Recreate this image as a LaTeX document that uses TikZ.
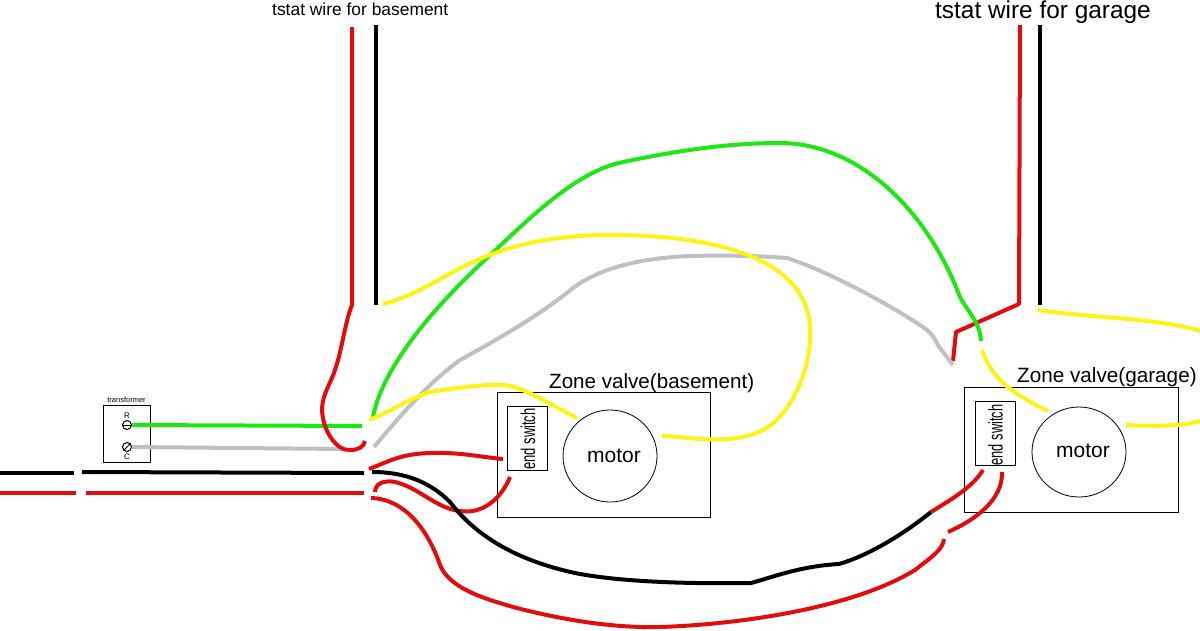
\documentclass[tikz,border=0pt]{standalone}
\usepackage{fontspec}
\usepackage{graphicx}
\setmainfont{Liberation Sans}
\definecolor{wred}{RGB}{226,12,12}
\definecolor{wgreen}{RGB}{30,232,20}
\definecolor{wyellow}{RGB}{254,244,20}
\definecolor{wgray}{RGB}{192,192,192}
\newcommand{\fsz}[1]{\fontsize{#1}{#1}\selectfont}
\usetikzlibrary{shapes.geometric}
\tikzset{
  wire/.style={line width=4pt,line cap=butt,line join=round},
  thinbox/.style={draw=black,line width=0.9pt,inner sep=0pt},
  lbl/.style={inner sep=0pt,text=black,anchor=base west},
  motorc/.style={draw=black,line width=0.8pt,ellipse,inner sep=0pt},
  screw/.style={draw=black,line width=1pt,circle,minimum size=9pt,inner sep=0pt},
}
\begin{document}
\begin{tikzpicture}[x=1pt,y=-1pt]
\useasboundingbox (0,0) rectangle (1200,630);
% boxes
\node[thinbox,minimum width=46.5pt,minimum height=57pt] (tr) at (127,433.5) {};
\node[inner sep=0pt,font=\fsz{7.5}] (trl) at (126.5,400) {transformer};
\node[screw] (R) at (127,425) {};
\node[screw] (C) at (127,447) {};
\draw[line width=.9pt] (R.west) -- (R.east);
\draw[line width=.9pt] (C.south west) -- (C.north east);
\node[inner sep=0pt,font=\fsz{8}] (Rl) at (127,416) {R};
\node[inner sep=0pt,font=\fsz{8}] (Cl) at (127,457) {C};
\node[thinbox,minimum width=213pt,minimum height=125pt] (zb) at (603.5,454.5) {};
\node[thinbox,minimum width=40pt,minimum height=64pt] (sb) at (527,438) {};
\node[motorc,minimum width=94pt,minimum height=92pt] (mb) at (610,456) {};
\node[thinbox,minimum width=214pt,minimum height=125pt] (zg) at (1071,449.5) {};
\node[thinbox,minimum width=40pt,minimum height=64pt] (sg) at (995,433.5) {};
\node[motorc,minimum width=94pt,minimum height=90pt] (mg) at (1079,452) {};
% texts
\node[lbl,font=\fsz{17.4}] (t1) at (272,15) {tstat wire for basement};
\node[lbl,font=\fsz{24.4}] (t2) at (935,18) {tstat wire for garage};
\node[lbl,font=\fsz{20.6}] (z1) at (549,388) {Zone valve(basement)};
\node[lbl,font=\fsz{20.7}] (z2) at (1017,382) {Zone valve(garage)};
\node[inner sep=0pt,font=\fsz{21}] (m1) at (614,456) {motor};
\node[inner sep=0pt,font=\fsz{21}] (m2) at (1083,451) {motor};
\node[inner sep=0pt,rotate=90] (e1) at (528,439) {\scalebox{0.65}[1]{\fsz{20}end switch}};
\node[inner sep=0pt,rotate=90] (e2) at (995.5,435) {\scalebox{0.64}[1]{\fsz{20}end switch}};
% free wire ends
\coordinate (rbtop) at (352,27);
\coordinate (kbtop) at (376,25);
\coordinate (rgtop) at (1020,25);
\coordinate (kgtop) at (1040,25);
% straight wires
\draw[wire,black] (kbtop) -- (376,305);
\draw[wire,black] (kgtop) -- (1040,305);
\draw[wire,wred] (rgtop) -- (1019,304) -- (956,332) -- (953,361);
\draw[wire,wgray] (C.east) -- (345,449);
\draw[wire,wgreen] (R.east) -- (362,426);
\draw[wire,black] (0,473) -- (74,473);
\draw[wire,black] (82,472) -- (364,473);
\draw[wire,wred] (0,493) -- (76,493);
\draw[wire,wred] (86,493) -- (364,493);
% basement red loop
\draw[wire,wred] (rbtop) -- (352,305) .. controls (345,322) and (342,350) .. (335,370) .. controls (330,385) and (322,395) .. (322,410) .. controls (323,432) and (337,451) .. (350,450) .. controls (358,450) and (364,447) .. (365,441);
% curved wires
\draw[wire,wgray] (374,447) .. controls (390,428) and (425,385) .. (460,360) .. controls (500,338) and (540,315) .. (573,288) .. controls (600,268) and (640,258) .. (690,256) .. controls (730,255) and (760,256) .. (787,258) .. controls (830,272) and (890,305) .. (923,327) .. controls (935,335) and (937,345) .. (940,348) -- (953,365);
\draw[wire,wgreen] (373,417) .. controls (381,375) and (420,320) .. (487,258) .. controls (530,218) and (575,172) .. (623,162) .. controls (680,150) and (730,143) .. (780,143) .. controls (855,143) and (925,205) .. (960,297) .. controls (968,312) and (980,322) .. (981,341);
\draw[wire,wyellow] (383,304) .. controls (420,295) and (450,270) .. (487,256) .. controls (520,243) and (560,235) .. (610,235) .. controls (680,235) and (790,245) .. (808,313) .. controls (815,345) and (805,385) .. (783,413) .. controls (765,437) and (735,441) .. (700,439) .. controls (685,438) and (675,436) .. (662,436);
\draw[wire,wyellow] (369,420) .. controls (390,412) and (410,398) .. (430,392) .. controls (455,388) and (485,384) .. (503,385) .. controls (520,386) and (535,396) .. (577,418);
\draw[wire,wyellow] (982,350) .. controls (992,380) and (1015,395) .. (1048,411);
\draw[wire,wyellow] (1038,310) .. controls (1090,318) and (1160,318) .. (1200,331);
\draw[wire,wyellow] (1126,425) .. controls (1150,426) and (1180,427) .. (1200,421);
\draw[wire,wred] (369,469) .. controls (390,461) and (400,454) .. (430,453) .. controls (460,452) and (480,457) .. (503,459);
\draw[wire,wred] (375,492) .. controls (375,483) and (385,480) .. (395,482) .. controls (420,488) and (435,508) .. (460,511) .. controls (485,515) and (503,495) .. (510,477);
\draw[wire,black] (372,472) .. controls (405,472) and (430,482) .. (450,502) .. controls (475,535) and (515,560) .. (575,573) .. controls (620,582) and (690,584) .. (751,583) .. controls (770,578) and (800,566) .. (839,564) .. controls (870,555) and (905,533) .. (931,512);
\draw[wire,wred] (931,512) .. controls (950,500) and (972,488) .. (983,470);
\draw[wire,wred] (948,532) .. controls (975,520) and (1003,500) .. (1002,472);
\draw[wire,wred] (371,498) .. controls (405,499) and (428,530) .. (440,565) .. controls (450,590) and (490,600) .. (513,607) .. controls (570,622) and (620,628) .. (659,627) .. controls (730,625) and (850,610) .. (915,570) .. controls (930,558) and (943,550) .. (944,539);
\end{tikzpicture}
\end{document}
